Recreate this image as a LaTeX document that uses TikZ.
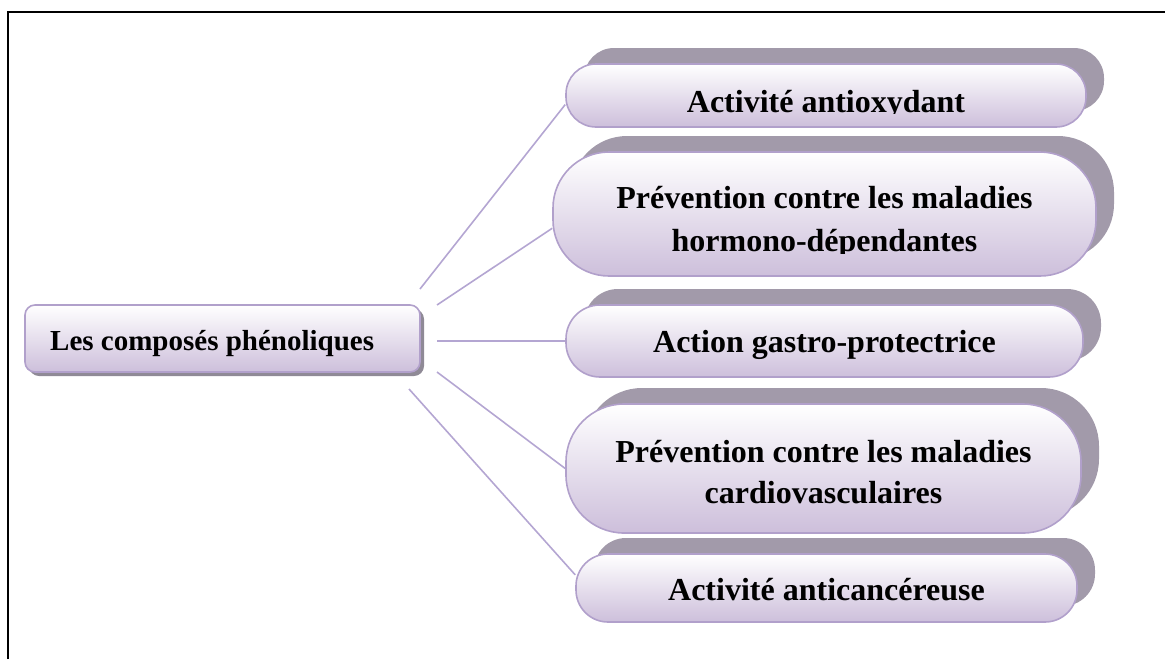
\documentclass[tikz,border=0pt]{standalone}
\usepackage{fontspec}
\setmainfont{Liberation Serif}
\definecolor{edgec}{HTML}{B1A0CB}
\definecolor{botc}{HTML}{CDBFDB}
\definecolor{shadc}{HTML}{A29AAA}
\definecolor{linec}{HTML}{B4A6D2}
\definecolor{censhad}{HTML}{8F8A96}
\newcommand{\myrbox}[6]{%
  \node[shadbox, minimum width=#4pt, minimum height=#5pt, rounded corners=#6pt] (#1s) at (#2+18,#3-16) {};
  \node[frontbox, minimum width=#4pt, minimum height=#5pt, rounded corners=#6pt] (#1) at (#2,#3) {};
}
\begin{document}
\begin{tikzpicture}[x=1pt,y=-1pt,
  every node/.style={font=\fontsize{32}{42}\selectfont\bfseries, inner sep=0pt},
  conn/.style={draw=linec, line width=1.6pt},
  frontbox/.style={draw=edgec, line width=1.6pt, top color=white, bottom color=botc},
  shadbox/.style={fill=shadc, draw=none},
  txt/.style={anchor=base}]
\useasboundingbox (0,0) rectangle (1165,659);
\draw[line width=2pt] (8,659) -- (8,12) -- (1165,12);

% central box
\node[fill=censhad, minimum width=395pt, minimum height=67pt, rounded corners=10pt] (cs) at (226.5,342.5) {};
\node[frontbox, minimum width=395pt, minimum height=67pt, rounded corners=10pt] (c) at (222.5,338.5) {};
\node[anchor=base west, font=\fontsize{29}{36}\selectfont\bfseries] (ct) at (50,350) {Les composés phénoliques};

% right boxes
\myrbox{b1}{826}{95.5}{520}{63}{30}
\myrbox{b2}{824.5}{214}{543}{124}{56}
\myrbox{b3}{824.5}{341}{517}{72}{34}
\myrbox{b4}{823.5}{468.5}{515}{129}{58}
\myrbox{b5}{826.5}{588}{501}{68}{32}

\begin{scope}
  \clip (560,60) rectangle (1090,113);
  \node[txt] (t1) at (826,112) {Activité antioxydant};
\end{scope}
\begin{scope}
  \clip (550,150) rectangle (1100,253);
  \node[txt] (t2a) at (824.5,208) {Prévention contre les maladies};
  \node[txt] (t2b) at (824.5,251) {hormono-dépendantes};
\end{scope}
\node[txt] (t3) at (824.5,352) {Action gastro-protectrice};
\node[txt] (t4a) at (823.5,462) {Prévention contre les maladies};
\node[txt] (t4b) at (823.5,503) {cardiovasculaires};
\node[txt] (t5) at (826.5,600) {Activité anticancéreuse};

% connectors
\coordinate (s1) at (420,289);
\coordinate (s2) at (437,305);
\coordinate (s3) at (437,341);
\coordinate (s4) at (437,372);
\coordinate (s5) at (409,389);
\draw[conn] (s1) -- (b1.182);
\draw[conn] (s2) -- (b2.183.2);
\draw[conn] (s3) -- (b3.west);
\draw[conn] (s4) -- (b4.west);
\draw[conn] (s5) -- (b5.177.3);
\end{tikzpicture}
\end{document}
